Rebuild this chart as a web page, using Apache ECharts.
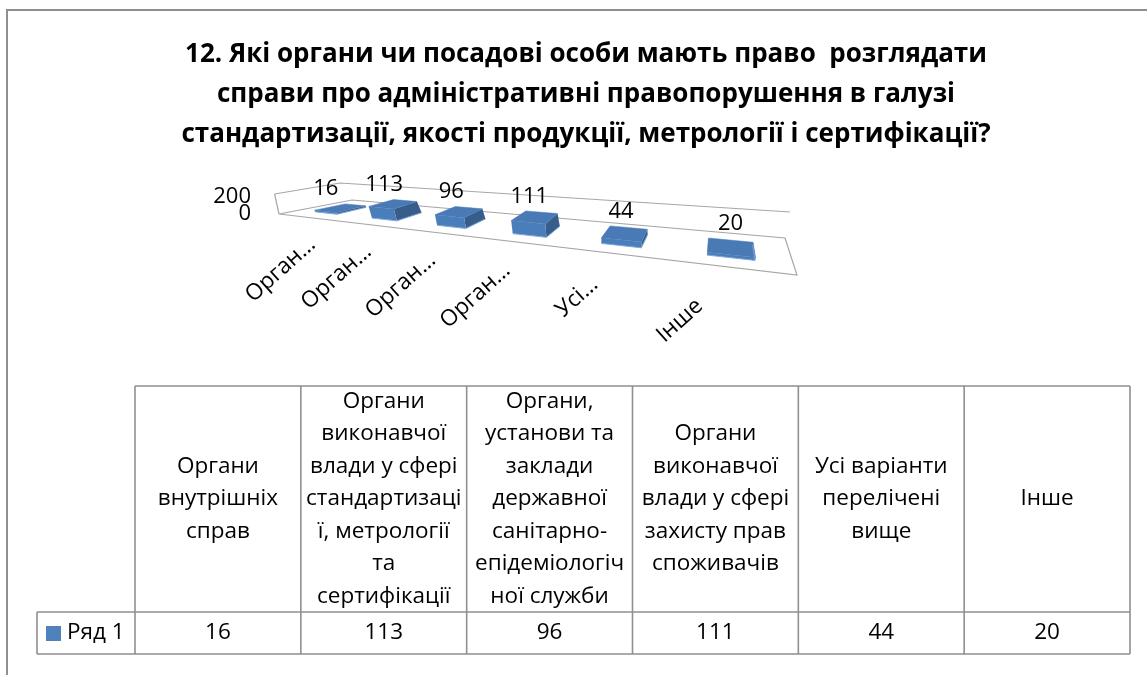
<!DOCTYPE html>
<html><head><meta charset="utf-8">
<script src="https://cdn.jsdelivr.net/npm/echarts@6/dist/echarts.min.js"></script>
<style>html,body{margin:0;padding:0;background:#fff}#c{width:1147px;height:675px}</style>
</head><body><div id="c"></div>
<script>
// ---------- data ----------
const titleText = "12. Які органи чи посадові особи мають право  розглядати\nсправи про адміністративні правопорушення в галузі\nстандартизації, якості продукції, метрології і сертифікації?";
const categories = [
  "Органи\nвнутрішніх\nсправ",
  "Органи\nвиконавчої\nвлади у сфері\nстандартизаці\nї, метрології\nта\nсертифікації",
  "Органи,\nустанови та\nзаклади\nдержавної\nсанітарно-\nепідеміологіч\nної служби",
  "Органи\nвиконавчої\nвлади у сфері\nзахисту прав\nспоживачів",
  "Усі варіанти\nперелічені\nвище",
  "Інше"
];
const axisLabels = ["Орган…", "Орган…", "Орган…", "Орган…", "Усі…", "Інше"];
const seriesName = "Ряд 1";
const values = [16, 113, 96, 111, 44, 20];
const valueTicks = [0, 200];
const valueMin = 0, valueMax = 200, valueStep = 200;

// ---------- layout / style ----------
const FONT = '"Open Sans", "Noto Sans", "DejaVu Sans", sans-serif';
const BLUE = '#4F81BD';
const GRID = {left: 279, top: 197, width: 518, height: 17};
// perspective floor quad (front-left, front-right, back-left, back-right)
const FL = [279, 214], FR = [797, 275], BL = [352, 200], BR = [785, 238];
const PERSP = 1.61;
const HS_FRONT = [20, 30.6], HS_BACK = [17, 26];   // px per full value range
const LEAN_FRONT = [-0.22, 0.2], LEAN_BACK = [-0.7, 0.19];
const lerp = (a, b, k) => a + (b - a) * k;
const tOf = u => u / (u + PERSP * (1 - u));
function P(u, v) {
  const t = tOf(u);
  const fx = lerp(FL[0], FR[0], t), fy = lerp(FL[1], FR[1], t);
  const bx = lerp(BL[0], BR[0], t), by = lerp(BL[1], BR[1], t);
  return [lerp(fx, bx, v), lerp(fy, by, v)];
}
function hsAt(u, v) { const t = tOf(u); return lerp(lerp(HS_FRONT[0], HS_FRONT[1], t), lerp(HS_BACK[0], HS_BACK[1], t), v); }
function leanAt(u, v) { const t = tOf(u); return lerp(lerp(LEAN_FRONT[0], LEAN_FRONT[1], t), lerp(LEAN_BACK[0], LEAN_BACK[1], t), v); }
function up(u, v, frac) { const p = P(u, v); const h = frac * hsAt(u, v); return [p[0] + leanAt(u, v) * h, p[1] - h]; }

const chart = echarts.init(document.getElementById('c'), null, {renderer: 'canvas'});

// wall/floor lines
const wallLines = [
  [up(0, 0, 1), up(0, 1, 1), up(1, 1, 1)],
  [up(0, 0, 1), P(0, 0)],
  [P(0, 0), P(0, 1), P(1, 1), P(1, 0), P(0, 0)]
];
const graphics = [];
// outer frame
graphics.push({type: 'polyline', silent: true, shape: {points: [[7, 675], [7, 10], [1147, 10]]}, style: {stroke: '#8f8f8f', lineWidth: 2, fill: null}});
wallLines.forEach(pts => graphics.push({type: 'polyline', silent: true, z: 1, shape: {points: pts}, style: {stroke: '#a6a6a6', lineWidth: 1.2, fill: null}}));

// data table
const TBL = {x0: 37, x1: 135, x2: 1130, top: 386, mid: 612, bottom: 654};
const colW = (TBL.x2 - TBL.x1) / categories.length;
const lineStyle = {stroke: '#8f8f8f', lineWidth: 1.6};
const TFONT = '22.5px ' + FONT;
graphics.push({type: 'line', shape: {x1: TBL.x1, y1: TBL.top, x2: TBL.x2, y2: TBL.top}, style: lineStyle});
graphics.push({type: 'line', shape: {x1: TBL.x0, y1: TBL.mid, x2: TBL.x2, y2: TBL.mid}, style: lineStyle});
graphics.push({type: 'line', shape: {x1: TBL.x0, y1: TBL.bottom, x2: TBL.x2, y2: TBL.bottom}, style: lineStyle});
graphics.push({type: 'line', shape: {x1: TBL.x0, y1: TBL.mid, x2: TBL.x0, y2: TBL.bottom}, style: lineStyle});
for (let i = 0; i <= categories.length; i++) {
  const x = TBL.x1 + i * colW;
  graphics.push({type: 'line', shape: {x1: x, y1: TBL.top, x2: x, y2: TBL.bottom}, style: lineStyle});
}
categories.forEach((c, i) => {
  const cx = TBL.x1 + (i + 0.5) * colW;
  graphics.push({type: 'text', x: cx, y: (TBL.top + TBL.mid) / 2, style: {text: c, font: TFONT, fill: '#000', align: 'center', verticalAlign: 'middle', lineHeight: 32.5}});
  graphics.push({type: 'text', x: cx, y: (TBL.mid + TBL.bottom) / 2, style: {text: String(values[i]), font: TFONT, fill: '#000', align: 'center', verticalAlign: 'middle'}});
});
graphics.push({type: 'rect', shape: {x: 46, y: 626, width: 15, height: 15}, style: {fill: BLUE}});
graphics.push({type: 'text', x: 67, y: (TBL.mid + TBL.bottom) / 2, style: {text: seriesName, font: TFONT, fill: '#000', align: 'left', verticalAlign: 'middle'}});

function renderItem(params, api) {
  const i = api.value(0), val = api.value(1);
  const cs = params.coordSys;
  const c0 = api.coord([i, 0]);
  const uc = (c0[0] - cs.x) / cs.width;
  const bw = api.size([1, 0])[0] / cs.width * 0.4;
  const frac = api.size([0, val])[1] / cs.height;
  const u1 = uc - bw / 2, u2 = uc + bw / 2, v1 = 0.28, v2 = 0.72;
  const a = P(u1, v1), b = P(u2, v1), c = P(u2, v2);
  const a2 = up(u1, v1, frac), b2 = up(u2, v1, frac), c2 = up(u2, v2, frac), d2 = up(u1, v2, frac);
  const children = [
    {type: 'polygon', shape: {points: [b, c, c2, b2]}, style: {fill: '#385D8A'}},
    {type: 'polygon', shape: {points: [a, b, b2, a2]}, style: {fill: '#4A7EBB'}},
    {type: 'polygon', shape: {points: [a2, b2, c2, d2]}, style: {fill: '#4A7AB6', stroke: '#4A7AB6', lineWidth: 0.5}},
    {type: 'polyline', shape: {points: [a, b, c]}, style: {stroke: '#7FA8DB', lineWidth: 1, fill: null}}
  ];
  // data label
  const front = P(uc, v1), backTop = up(uc, v2, frac);
  children.push({type: 'text', x: front[0], y: backTop[1] - 5, style: {text: String(val), font: '22px ' + FONT, fill: '#000', align: 'center', verticalAlign: 'bottom'}});
  // category label (rotated)
  const t = tOf(uc);
  const fe = P(uc, 0);
  const ax = fe[0] + 8 - 45 * t, ay = fe[1] + 24 + 20 * Math.pow(t, 4);
  children.push({type: 'text', x: ax, y: ay, rotation: 42 * Math.PI / 180, style: {text: axisLabels[i], font: '22.5px ' + FONT, fill: '#000', align: 'right', verticalAlign: 'middle'}});
  return {type: 'group', children};
}

chart.setOption({
  animation: false,
  backgroundColor: '#fff',
  title: {text: titleText, left: 581, top: 30, textAlign: 'center',
    textStyle: {fontFamily: FONT, fontSize: 26, fontWeight: 'bold', color: '#000', lineHeight: 40}},
  grid: {left: GRID.left, top: GRID.top, width: GRID.width, height: GRID.height},
  xAxis: {type: 'category', data: axisLabels, show: false},
  yAxis: {type: 'value', min: valueMin, max: valueMax, interval: valueStep,
    axisLine: {show: false}, axisTick: {show: false}, splitLine: {show: false}, axisLabel: {show: false}},
  graphic: graphics,
  series: [{type: 'custom', name: seriesName, renderItem, z: 3,
    data: values.map((v, i) => [i, v])}]
});

// value-axis tick labels placed through the axis scale
const tickGraphics = valueTicks.map(v => {
  const y = chart.convertToPixel({yAxisIndex: 0}, v);
  return {type: 'text', x: GRID.left - 28, y: y, style: {text: String(v), font: '22px ' + FONT, fill: '#000', align: 'right', verticalAlign: 'middle'}};
});
chart.setOption({graphic: graphics.concat(tickGraphics)});
</script></body></html>
